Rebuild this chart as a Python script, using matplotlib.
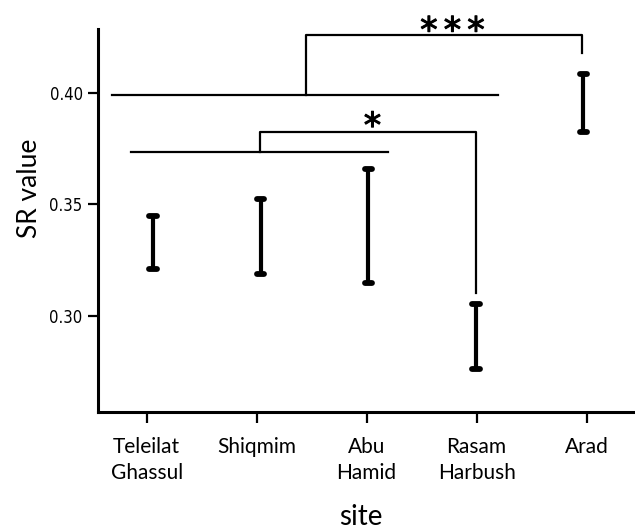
import numpy as np
import matplotlib.pyplot as plt
import matplotlib.patheffects as pe

sites = ["Teleilat\nGhassul", "Shiqmim", "Abu\nHamid", "Rasam\nHarbush", "Arad"]
sr_low = [0.3210, 0.3186, 0.3145, 0.2760, 0.3824]
sr_high = [0.3447, 0.3523, 0.3658, 0.3051, 0.4084]

# group lines and significance brackets (x in category units, y in SR value)
group_a = (-0.315, 3.19, 0.3990)
group_b = (-0.143, 2.19, 0.3734)
br_one = (1.03, 2.99, 0.3824, 0.3102)    # x_start, x_end, y_top, y_drop
br_three = (1.453, 3.96, 0.4259, 0.4178)

x = np.arange(len(sites))

fig = plt.figure(figsize=(6.35, 5.29), dpi=100)
ax = fig.add_axes([0.1543, 0.2212, 0.8457, 0.7240])

# bars sit a few pixels off the ticks in the original
bar_x = x + np.array([0.057, 0.036, 0.015, -0.006, -0.03])
ax.vlines(bar_x, sr_low, sr_high, color="black", lw=3.0, zorder=3)
cap = 0.033
for bx, lo, hi in zip(bar_x, sr_low, sr_high):
    for yv in (lo, hi):
        ax.plot([bx - cap, bx + cap], [yv, yv], color="black", lw=4.2,
                solid_capstyle="round", zorder=3)

lw = 1.6
ax.plot([group_a[0], group_a[1]], [group_a[2]] * 2, color="black", lw=lw)
ax.plot([group_b[0], group_b[1]], [group_b[2]] * 2, color="black", lw=lw)

x0, x1, yt, yd = br_one
ax.plot([x0, x0, x1, x1], [group_b[2], yt, yt, yd], color="black", lw=lw)
x0, x1, yt, yd = br_three
ax.plot([x0, x0, x1, x1], [group_a[2], yt, yt, yd], color="black", lw=lw)

star_fx = [pe.withStroke(linewidth=0.8, foreground="black")]
ax.text(2.053, 0.3770, "*", ha="center", va="bottom", fontsize=25,
        family="DejaVu Sans", path_effects=star_fx)
for sx in (2.566, 2.78, 2.994):
    ax.text(sx, 0.4198, "*", ha="center", va="bottom", fontsize=25,
            family="DejaVu Sans", path_effects=star_fx)

ax.set_xlim(-0.443, 4.44)
ax.set_ylim(0.2568, 0.4286)
ax.set_yticks([0.30, 0.35, 0.40])
ax.set_yticklabels(["0.30", "0.35", "0.40"], family="DejaVu Sans",
                   stretch="condensed", fontsize=12)
ax.set_xticks(x)
ax.set_xticklabels(sites, family="Lato", fontsize=15, va="top",
                   linespacing=1.35)

for s in ["top", "right"]:
    ax.spines[s].set_visible(False)
for s in ["left", "bottom"]:
    ax.spines[s].set_linewidth(2.2)

ax.tick_params(axis="y", direction="out", length=7, width=1.6, pad=4)
ax.tick_params(axis="x", direction="out", length=8, width=1.6, pad=10)

ax.set_ylabel("SR value", family="Lato", fontsize=19)
ax.yaxis.set_label_coords(-0.128, 0.585)
ax.yaxis.label.set_va("center")
ax.set_xlabel("site", family="Lato", fontsize=20)
ax.xaxis.set_label_coords(0.49, -0.274)
ax.xaxis.label.set_va("center")

fig.savefig("out.png", dpi=100)
